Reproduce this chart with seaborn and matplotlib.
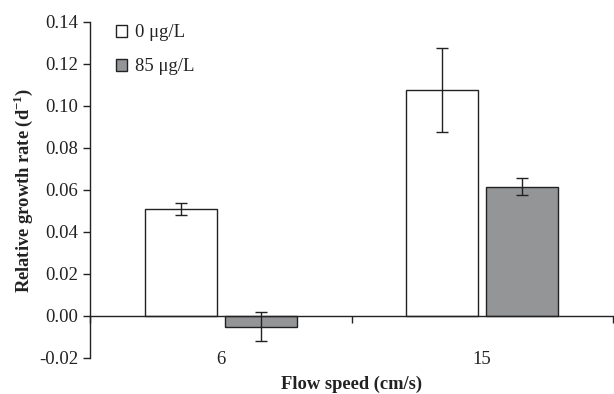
import matplotlib
matplotlib.use("Agg")
import matplotlib.pyplot as plt
import seaborn as sns
import pandas as pd
from matplotlib.patches import Patch
from matplotlib.ticker import FuncFormatter, FixedLocator

speeds = ["6", "15"]
concs = ["0 μg/L", "85 μg/L"]
rate_0 = [0.051, 0.1075]
rate_85 = [-0.005, 0.0615]
err_0 = [0.003, 0.020]
err_85 = [0.007, 0.004]
yticks = [-0.02, 0.00, 0.02, 0.04, 0.06, 0.08, 0.10, 0.12, 0.14]

sns.set_theme(style="ticks")
plt.rcParams["font.family"] = ["Liberation Serif", "DejaVu Serif"]
plt.rcParams["mathtext.fontset"] = "custom"
plt.rcParams["mathtext.rm"] = "Liberation Serif"
plt.rcParams["mathtext.bf"] = "Liberation Serif:bold"

df = pd.DataFrame({
    "speed": speeds * 2,
    "conc": [concs[0]] * 2 + [concs[1]] * 2,
    "rate": rate_0 + rate_85,
    "err": err_0 + err_85,
})

fig = plt.figure(figsize=(6.14, 3.94), dpi=100)
ax = fig.add_axes([90 / 614, 36 / 394, 523 / 614, 336 / 394])
colors = {concs[0]: "#ffffff", concs[1]: "#939598"}
sns.barplot(data=df, x="speed", y="rate", hue="conc", order=speeds, hue_order=concs,
            palette=colors, width=0.61, gap=0.1, edgecolor="#222222", linewidth=1.0,
            errorbar=None, legend=False, ax=ax)

# error bars at bar centers
for i, c in enumerate(concs):
    sub = df[df["conc"] == c].set_index("speed").loc[speeds]
    cont = ax.containers[i]
    xs = [b.get_x() + b.get_width() / 2 for b in cont]
    ax.errorbar(xs, sub["rate"], yerr=sub["err"], fmt="none", ecolor="#222222",
                elinewidth=1.0, capsize=4, capthick=1.0)

ax.set_xlim(-0.5, 1.5)
ax.set_ylim(-0.02, 0.14)
ax.yaxis.set_major_locator(FixedLocator(yticks))
ax.yaxis.set_major_formatter(FuncFormatter(lambda v, _: f"{v:.2f}"))
ax.spines["right"].set_visible(False)
ax.spines["top"].set_visible(False)
ax.spines["bottom"].set_position(("data", 0))
for s in ("left", "bottom"):
    ax.spines[s].set_color("#222222")
    ax.spines[s].set_linewidth(1.0)
ax.tick_params(axis="y", direction="out", length=5, width=1.0, color="#222222",
               labelsize=13.5, labelcolor="#222222", pad=3.5)
ax.tick_params(axis="x", which="major", length=0, labelsize=13.5, labelcolor="#222222", pad=25)
ax.xaxis.set_minor_locator(FixedLocator([-0.5, 0.5, 1.5]))
ax.tick_params(axis="x", which="minor", direction="out", length=5, width=1.0, color="#222222")

ax.set_xlabel("Flow speed (cm/s)", fontsize=13.3, fontweight="bold", color="#222222")
ax.set_ylabel("Relative growth rate (d$^{\\mathbf{-1}}$)", fontsize=13.3, fontweight="bold",
              color="#222222", labelpad=3)
ax.xaxis.set_label_coords(0.5, -0.054)

handles = [Patch(facecolor=colors[c], edgecolor="#222222", linewidth=1.0, label=c) for c in concs]
ax.legend(handles=handles, loc="upper left", bbox_to_anchor=(0.05, 0.993), frameon=False,
          borderpad=0, borderaxespad=0,
          fontsize=13.5, handlelength=0.6, handleheight=0.6, handletextpad=0.4, labelspacing=0.9,
          labelcolor="#222222")

fig.savefig("out.png", dpi=100)
